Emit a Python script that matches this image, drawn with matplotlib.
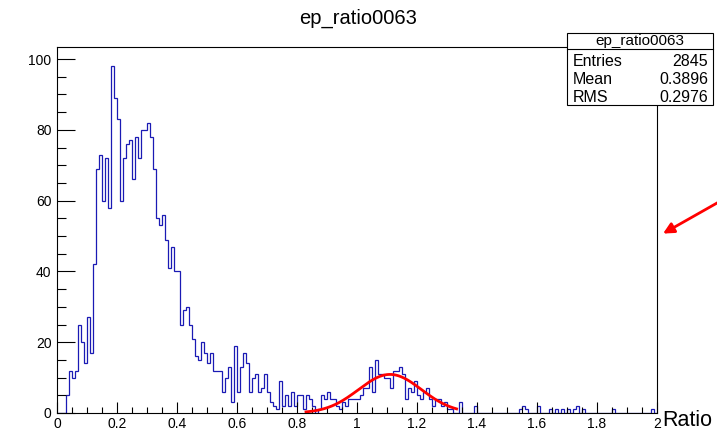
import numpy as np
import matplotlib
matplotlib.use("Agg")
import matplotlib.pyplot as plt
from matplotlib.ticker import MultipleLocator
from matplotlib.patches import Rectangle
from matplotlib.lines import Line2D

plt.rcParams['font.family'] = ['Liberation Sans', 'DejaVu Sans']

# histogram: 200 bins between 0 and 2
x_min, x_max, n_bins = 0.0, 2.0, 200
counts = [
    0, 0, 0, 5, 12, 10, 12, 25, 20, 14,
    27, 17, 42, 69, 73, 60, 72, 58, 98, 89,
    83, 60, 72, 76, 77, 66, 78, 72, 80, 80,
    82, 78, 69, 55, 53, 56, 49, 41, 47, 40,
    40, 25, 29, 30, 25, 21, 16, 15, 20, 17,
    14, 17, 12, 12, 12, 6, 10, 13, 3, 19,
    6, 13, 17, 14, 6, 10, 11, 6, 7, 11,
    6, 3, 2, 1, 9, 2, 5, 2, 6, 2,
    5, 5, 1, 5, 4, 2, 0, 1, 5, 4,
    6, 4, 4, 2, 1, 3, 2, 4, 4, 4,
    4, 5, 7, 7, 13, 6, 15, 11, 11, 10,
    10, 7, 12, 12, 13, 11, 4, 7, 6, 9,
    5, 4, 6, 7, 4, 2, 4, 4, 2, 3,
    1, 1, 0, 0, 3, 0, 0, 0, 0, 2,
    0, 0, 0, 0, 0, 0, 0, 0, 0, 0,
    0, 0, 0, 0, 1, 2, 1, 0, 0, 0,
    2, 0, 0, 0, 1, 0, 1, 0, 1, 0,
    1, 0, 1, 2, 0, 1, 0, 0, 0, 0,
    0, 0, 0, 0, 0, 1, 0, 0, 0, 0,
    0, 0, 0, 0, 0, 0, 0, 0, 1, 0,
]

# gaussian fit parameters
fit_const = 10.9
fit_mean = 1.11
fit_sigma = 0.105
fit_range = (0.83, 1.332)

stats_names = ["Entries", "Mean", "RMS"]
stats_values = ["2845", "0.3896", "0.2976"]
hist_name = "ep_ratio0063"

edges = np.linspace(x_min, x_max, n_bins + 1)

W, H = 717, 433
fig = plt.figure(figsize=(W / 100, H / 100), dpi=100)
ax = fig.add_axes([57 / W, 1 - 413 / H, 600 / W, 366 / H])

ax.stairs(counts, edges, color='#1a1ab4', lw=0.9, baseline=0)

xf = np.linspace(fit_range[0], fit_range[1], 200)
yf = fit_const * np.exp(-0.5 * ((xf - fit_mean) / fit_sigma) ** 2)
ax.plot(xf, yf, color='#ff0000', lw=2)

ax.set_xlim(x_min, x_max)
ax.set_ylim(0, 103.4)

ax.xaxis.set_major_locator(MultipleLocator(0.2))
ax.xaxis.set_minor_locator(MultipleLocator(0.05))
ax.yaxis.set_major_locator(MultipleLocator(20))
ax.yaxis.set_minor_locator(MultipleLocator(5))
ax.set_xticks(np.arange(0, 2.01, 0.2))
ax.set_xticklabels(["0", "0.2", "0.4", "0.6", "0.8", "1", "1.2", "1.4", "1.6", "1.8", "2"])
ax.tick_params(axis='x', which='major', direction='in', length=8, width=0.8, labelsize=10, pad=3)
ax.tick_params(axis='x', which='minor', direction='in', length=4, width=0.8)
ax.tick_params(axis='y', which='major', direction='in', length=13, width=0.8, labelsize=10, pad=4)
ax.tick_params(axis='y', which='minor', direction='in', length=6.5, width=0.8)
for s in ax.spines.values():
    s.set_linewidth(0.8)

fig.text(0.5, 1 - 18 / H, hist_name, ha='center', va='center', fontsize=14.5)
fig.text(662 / W, 1 - 420 / H, "Ratio", ha='left', va='center', fontsize=15.5)

# red arrow pointing at the right frame
ax.annotate('', xy=(2.012, 50.3), xytext=(2.21, 59.8),
            arrowprops=dict(arrowstyle='-|>', color='red', lw=2, mutation_scale=16),
            annotation_clip=False)

# stats box
bx0, bx1 = 567 / W, 713 / W
by_top, by_bot = 1 - 33 / H, 1 - 105 / H
fig.patches.append(Rectangle((bx0, by_bot), bx1 - bx0, by_top - by_bot,
                             transform=fig.transFigure, facecolor='white',
                             edgecolor='black', lw=0.8, zorder=5))
fig.lines.append(Line2D([bx0, bx1], [1 - 49 / H, 1 - 49 / H],
                        transform=fig.transFigure, color='black', lw=0.8, zorder=6))
fig.text((bx0 + bx1) / 2, 1 - 41.5 / H, hist_name, ha='center', va='center',
         fontsize=11, zorder=7)
for i, (name, val) in enumerate(zip(stats_names, stats_values)):
    yy = 1 - (61.5 + 18 * i) / H
    fig.text(573 / W, yy, name, ha='left', va='center', fontsize=11.5, zorder=7)
    fig.text(708 / W, yy, val, ha='right', va='center', fontsize=11.5, zorder=7)

fig.savefig("out.png", dpi=100)
